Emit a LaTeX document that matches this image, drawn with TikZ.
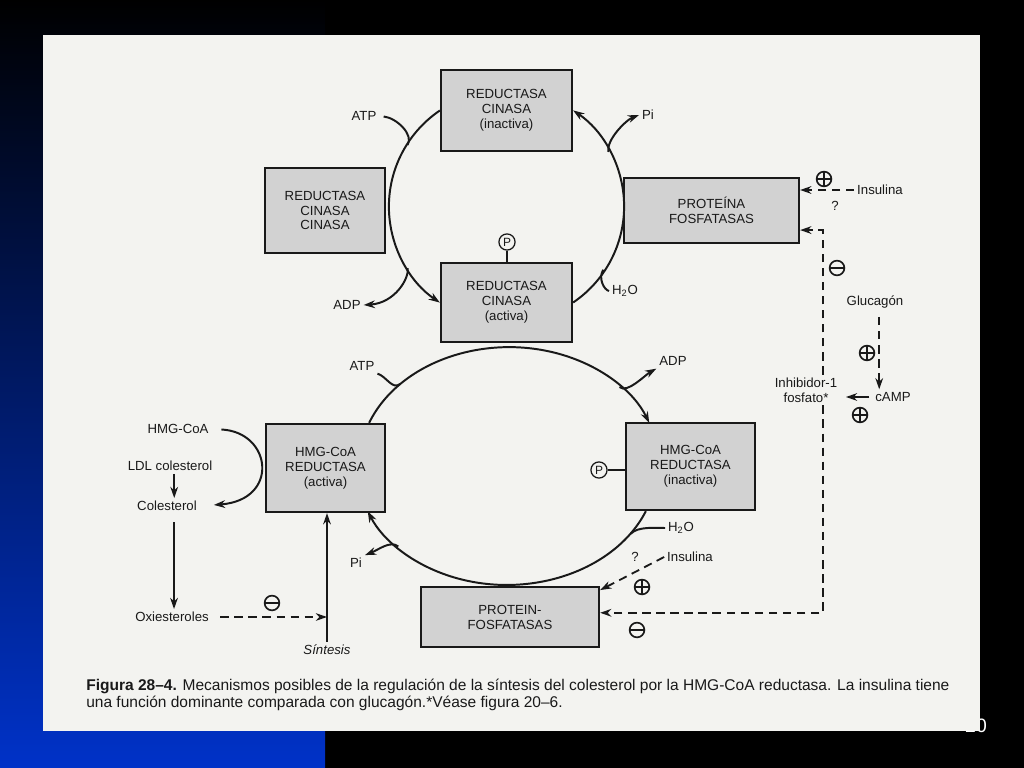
\documentclass[tikz,border=0pt]{standalone}
\usepackage{fontspec}
\setmainfont{Liberation Sans}
\usetikzlibrary{arrows.meta}

\definecolor{azul}{RGB}{0,50,200}
\definecolor{papel}{RGB}{243,243,240}
\definecolor{tinta}{RGB}{25,25,25}

\begin{document}
\begin{tikzpicture}[x=0.025cm, y=-0.025cm, >={Stealth[length=8pt,width=5.5pt]},
    caja/.style ={rectangle, draw=tinta, line width=1.6pt, fill=gray!35, align=center, text=tinta, font=\fontsize{9.4}{10.6}\selectfont},
    etiq/.style ={inner sep=2pt, align=center, text=tinta, font=\fontsize{9.4}{10.6}\selectfont},
    ciclo/.style ={draw=tinta, line width=1.4pt},
    flecha/.style ={draw=tinta, line width=1.4pt, ->},
    discont/.style ={draw=tinta, line width=1.3pt, dash pattern=on 6pt off 4pt, ->},
    fosfo/.style ={circle, draw=tinta, line width=0.9pt, inner sep=0pt, minimum size=11.5pt, text=tinta, font=\fontsize{8.5}{9}\selectfont},
    signo/.style ={circle, draw=tinta, line width=1.2pt, inner sep=0pt, minimum size=10.5pt},
    mas/.style ={signo, path picture={\draw[line width=1.2pt] (path picture bounding box.west) -- (path picture bounding box.east) (path picture bounding box.north) -- (path picture bounding box.south);}},
    menos/.style ={signo, path picture={\draw[line width=1.2pt] (path picture bounding box.west) -- (path picture bounding box.east);}}]
   \useasboundingbox (0,0) rectangle (1024,768);
   \fill[black] (0,0) rectangle (1024,768);
   \shade[top color=black, bottom color=azul] (0,0) rectangle (325,768);
   \node[text=white, font=\fontsize{13.8}{14}\selectfont] (num) at (976,726) {20};
   \fill[papel] (43,35) rectangle (980,731);

   \node[caja, minimum width=3.275cm, minimum height=2.025cm] (RCI) at (506.5,110.5) {REDUCTASA\\CINASA\\(inactiva)};
   \node[caja, minimum width=3.275cm, minimum height=1.975cm] (RCA) at (506.5,302.5) {REDUCTASA\\CINASA\\(activa)};
   \node[caja, minimum width=3cm, minimum height=2.125cm] (RCC) at (325,210.5) {REDUCTASA\\CINASA\\CINASA};
   \node[caja, minimum width=4.375cm, minimum height=1.625cm] (PF) at (711.5,210.5) {PROTEÍNA\\FOSFATASAS};
   \node[caja, minimum width=2.975cm, minimum height=2.2cm] (HA) at (325.5,468) {HMG-CoA\\REDUCTASA\\(activa)};
   \node[caja, minimum width=3.225cm, minimum height=2.175cm] (HI) at (690.5,466.5) {HMG-CoA\\REDUCTASA\\(inactiva)};
   \node[caja, minimum width=4.45cm, minimum height=1.5cm] (PF2) at (510,617) {PROTEIN-\\FOSFATASAS};

   \node[fosfo] (P1) at (507,242) {P};
   \node[fosfo] (P2) at (599,470) {P};
   \draw[ciclo] (P1.south) -- (P1.south |- RCA.north);
   \draw[ciclo] (P2.east) -- (P2.east -| HI.west);

   \coordinate (u1) at (407.6,145);
   \coordinate (u2) at (407.6,268);
   \coordinate (u3) at (608.4,152);
   \coordinate (u4) at (603.3,269.7);
   \coordinate (l1) at (400.1,384);
   \coordinate (l2) at (619.5,387);
   \coordinate (l3) at (630.9,533.7);
   \coordinate (l4) at (398.3,546.5);

   \draw[flecha] (RCI.west) arc[start angle=235.9, end angle=124.1, radius=116];
   \draw[flecha] (RCA.east) arc[start angle=55.9, end angle=-55.9, radius=116];
   \draw[flecha] (HA.north east) ++(-17,0) arc[start angle=201, end angle=339, x radius=150, y radius=118];
   \draw[flecha] (HI.south west) ++(21,0) arc[start angle=22, end angle=158, x radius=150, y radius=118];

   \node[etiq] (ATP1) at (364,116) {ATP};
   \node[etiq] (ADP1) at (347,305) {ADP};
   \node[etiq] (Pi1) at (648,115) {Pi};
   \node[etiq] (H2O1) at (625,291) {H\textsubscript{2}O};
   \node[etiq] (ATP2) at (362,366) {ATP};
   \node[etiq] (ADP2) at (673,361) {ADP};
   \node[etiq] (H2O2) at (681,528) {H\textsubscript{2}O};
   \node[etiq] (Pi2) at (356,563) {Pi};

   \draw[ciclo, shorten <=3pt] (ATP1.east) .. controls (397,118) and (414,135) .. (u1);
   \draw[flecha] (u2) .. controls (409.6,278) and (395,303) .. (ADP1.east);
   \draw[flecha] (u3) .. controls (606,140) and (626,120) .. (Pi1.west);
   \draw[ciclo] (H2O1.west) .. controls (604,290) and (597.8,278) .. (u4);
   \draw[ciclo] (ATP2.south east) .. controls (386,376) and (392.4,390.3) .. (l1);
   \draw[flecha] (l2) .. controls (627,394) and (645,375) .. (ADP2.south west);
   \draw[ciclo] (H2O2.west) .. controls (656,528) and (637.5,526.2) .. (l3);
   \draw[flecha] (l4) .. controls (390.6,540) and (378,550) .. (Pi2.north east);

   \node[etiq] (HC) at (178,429) {HMG-CoA};
   \node[etiq] (LDL) at (170,466) {LDL colesterol};
   \node[etiq] (Col) at (167,506) {Colesterol};
   \node[etiq] (Oxi) at (172,617) {Oxiesteroles};
   \node[etiq, font=\fontsize{9.4}{10.6}\selectfont\itshape] (Sint) at (327,650) {Síntesis};
   \node[menos] (m1) at (272,603) {};

   \draw[flecha, shorten <=7pt, shorten >=10pt] (HC.east) .. controls (272,432) and (280,500) .. (Col.east);
   \draw[flecha] ([xshift=3pt]LDL.south) -- ([xshift=3pt]LDL.south |- Col.north);
   \draw[flecha, shorten <=6pt] ([xshift=5pt]Col.south) -- ([xshift=5pt]Col.south |- Oxi.north);
   \draw[flecha] (Sint.north) -- (Sint.north |- HA.south);
   \draw[discont, shorten <=6pt] (Oxi.east) -- (Oxi.east -| Sint.north);

   \node[etiq] (Ins1) at (880,190) {Insulina};
   \node[mas] (p1) at (824,179) {};
   \node[etiq] (q1) at (835,206) {?};
   \node[etiq] (Inh) at (806,390) {Inhibidor-1\\fosfato*};
   \node[menos] (m2) at (837,268) {};
   \node[etiq] (Glu) at (875,302) {Glucagón};
   \node[etiq] (cAMP) at (893,397) {cAMP};
   \node[mas] (p2) at (867,353) {};
   \node[mas] (p3) at (860,415) {};
   \node[etiq] (Ins2) at (690,557) {Insulina};
   \node[etiq] (q2) at (635,557) {?};
   \node[mas] (p4) at (642,587) {};
   \node[menos] (m3) at (637,630) {};

   \draw[discont] (Ins1.west) -- (Ins1.west -| PF.east);
   \draw[discont] ([xshift=12pt]Inh.north) |- ([yshift=10pt]PF.south east);
   \draw[discont] ([xshift=12pt]Inh.south) |- ([yshift=3pt]PF2.east);
   \draw[discont, shorten <=4pt] ([xshift=3pt]Glu.south) -- ([xshift=3pt]Glu.south |- cAMP.north);
   \draw[flecha, shorten <=2pt, shorten >=4pt] (cAMP.west) -- (cAMP.west -| Inh.east);
   \draw[discont] (Ins2.west) -- ([yshift=-3pt]PF2.north east);

   \node[anchor=north west, inner sep=0pt, text=tinta] (cap) at (86,678) {\resizebox{21.575cm}{!}{\fontsize{10}{11}\selectfont\begin{tabular}{@{}l@{}}\textbf{Figura 28–4.} Mecanismos posibles de la regulación de la síntesis del colesterol por la HMG-CoA reductasa. La insulina tiene\\una función dominante comparada con glucagón.*Véase figura 20–6.\end{tabular}}};
 \end{tikzpicture}
\end{document}
